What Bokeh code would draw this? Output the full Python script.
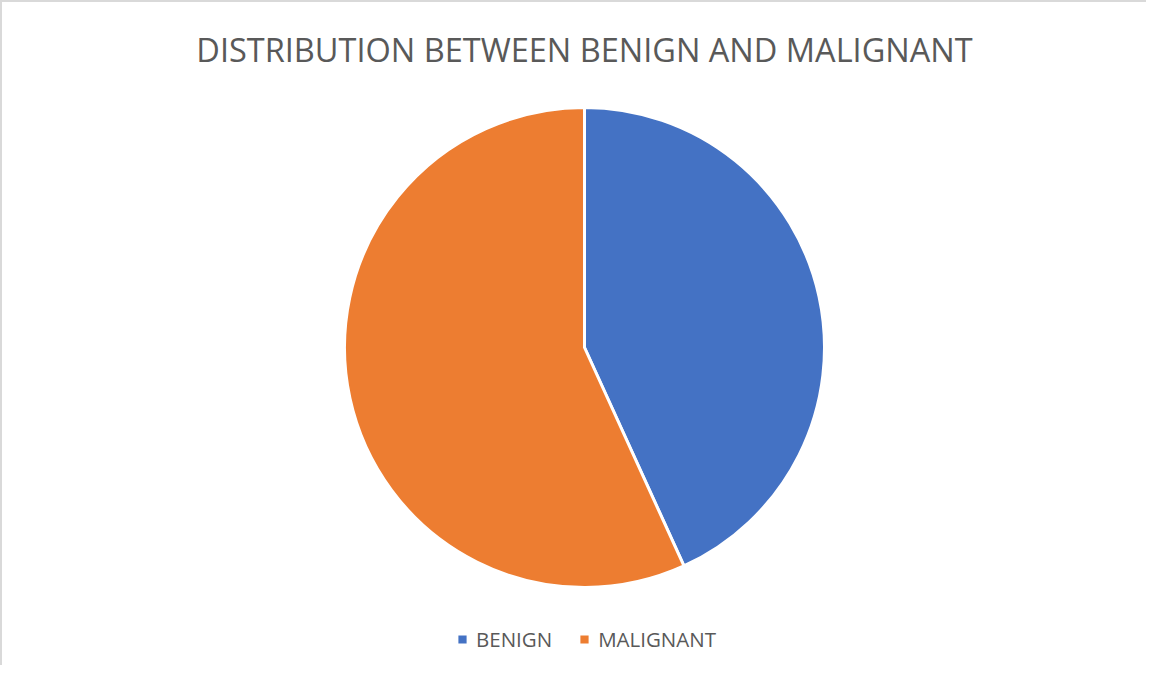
import numpy as np
from bokeh.plotting import figure
from bokeh.models import Range1d, Label, Legend, LegendItem, ColumnDataSource
from bokeh.embed import file_html
from bokeh.resources import INLINE

# Data
categories = ["BENIGN", "MALIGNANT"]
shares = [43.2, 56.8]
colors = ["#4472C4", "#ED7D31"]
title_text = "DISTRIBUTION BETWEEN BENIGN AND MALIGNANT"

W, H = 1146, 665
CX, CY = 582, 345  # pie centre, px from left / top of canvas
p = figure(width=W, height=H, output_backend="svg", toolbar_location=None,
           x_range=Range1d(-CX, W - CX), y_range=Range1d(-(H - CY), CY),
           min_border=0, outline_line_color=None)
p.axis.visible = False
p.grid.visible = False
p.styles = {"border-top": "2px solid #d9d9d9", "border-left": "2px solid #d9d9d9"}

vals = np.array(shares, dtype=float)
frac = vals / vals.sum()
# clockwise from 12 o'clock
ends = np.pi / 2 - 2 * np.pi * np.concatenate([[0], np.cumsum(frac)[:-1]])
starts = np.pi / 2 - 2 * np.pi * np.cumsum(frac)
src = ColumnDataSource(dict(cat=categories, start=starts, end=ends, color=colors))
r = p.wedge(x=0, y=0, radius=240, start_angle="start", end_angle="end",
            fill_color="color", line_color="white", line_width=3, source=src)

p.add_layout(Label(x=CX, y=H - 47, x_units="screen", y_units="screen", text=title_text,
                   text_align="center", text_baseline="alphabetic",
                   text_font="Open Sans", text_font_size="32.5px", text_color="#595959"))

items = [LegendItem(label=c, renderers=[r], index=i) for i, c in enumerate(categories)]
legend = Legend(items=items, orientation="horizontal", location=(453, 14),
                label_text_font="Open Sans", label_text_font_size="20.5px",
                label_text_color="#595959", glyph_width=14, glyph_height=14,
                label_standoff=7, spacing=25, padding=0, margin=0,
                border_line_color=None, background_fill_alpha=0)
p.add_layout(legend, "center")

open("out.html", "w").write(file_html(p, INLINE))
